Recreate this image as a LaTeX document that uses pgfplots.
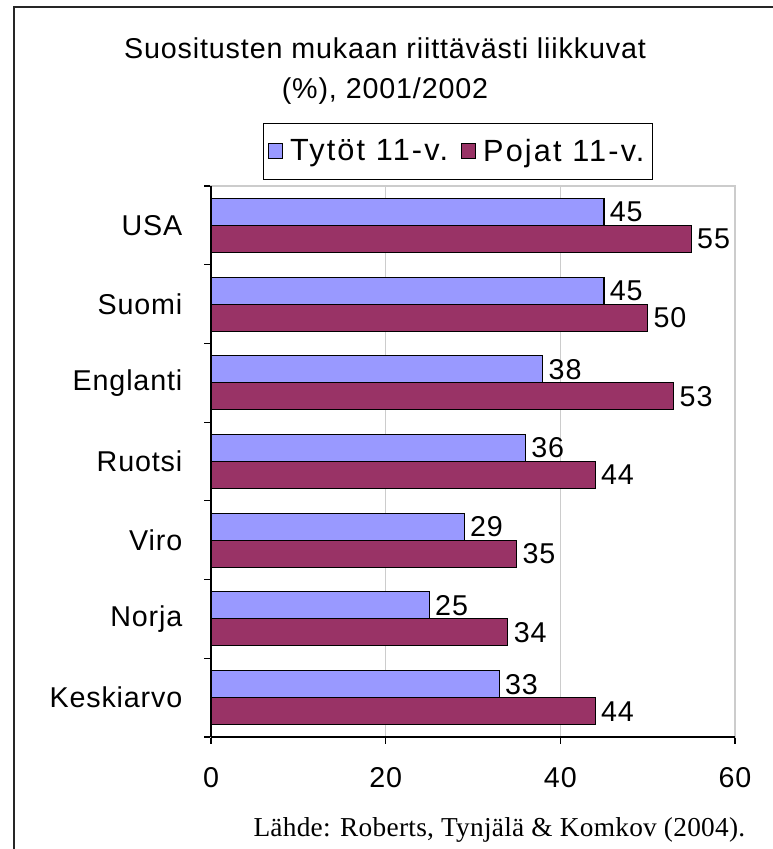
\documentclass[border=0pt]{standalone}
\usepackage{pgfplots}
\pgfplotsset{compat=1.18}
\usepackage{fontspec}
\setmainfont{Liberation Sans}[LetterSpace=3]
\newfontfamily\seriffont{Liberation Serif}[LetterSpace=1]
\definecolor{tyto}{HTML}{9999FF}
\definecolor{poika}{HTML}{993366}
\newcommand\bigf{\fontsize{21.5}{30}\selectfont}
\newcommand\legf{\fontsize{23}{30}\selectfont\addfontfeature{LetterSpace=7}}
\begin{document}
\begin{tikzpicture}[x=0.75pt,y=0.75pt]
\useasboundingbox (0,0) rectangle (773,849);
\draw[line width=1.5pt, black!85] (14,-5) -- (14,842) -- (780,842);
\node[font=\bigf, align=center] at (385,778) {Suositusten mukaan riittävästi liikkuvat\\(\%), 2001/2002};
\coordinate (ax) at (211,112);
\node[font=\seriffont\fontsize{20.5}{24}\selectfont, anchor=east] at (750,19) {Lähde: Roberts, Tynjälä \& Komkov (2004).};
\begin{axis}[at={(ax)}, anchor=south west, scale only axis,
  width=393pt, height=413.25pt,
  xbar, clip=false,
  xmin=0, xmax=60, ymin=-0.5, ymax=6.5,
  /pgf/number format/assume math mode=true,
  xtick={0,20,40,60},
  xmajorgrids, grid style={draw=gray!40, line width=0.8pt},
  axis line style={draw=gray!40, line width=0.8pt},
  tick style={black, line width=0.8pt},
  tick align=outside, tick pos=left,
  major tick length=5.25pt,
  xticklabel style={font=\bigf, yshift=-14pt},
  ytick={-0.5,0.5,1.5,2.5,3.5,4.5,5.5,6.5},
  yticklabels={},
  extra y ticks={0,1,2,3,4,5,6},
  extra y tick labels={Keskiarvo,Norja,Viro,Ruotsi,Englanti,Suomi,USA},
  extra y tick style={major tick length=0pt, yticklabel style={font=\bigf, xshift=-18pt}},
  bar width=0.343,
  nodes near coords,
  nodes near coords style={font=\bigf, anchor=west, inner sep=4pt},
  legend style={at={(rel axis cs:0.471,1)}, anchor=south, yshift=4.5pt,
    draw=black, line width=0.8pt, font=\legf, legend columns=2,
    inner xsep=4pt, inner ysep=10pt,
    /tikz/every odd column/.append style={column sep=3pt},
    /tikz/every even column/.append style={column sep=8pt}},
  legend image code/.code={\draw[#1,draw=black,line width=0.8pt] (0pt,-5.25pt) rectangle (10.5pt,5.75pt);},
]
\addplot[fill=tyto, draw=black, line width=0.8pt, bar shift=0.1715]
  coordinates {(45,6) (45,5) (38,4) (36,3) (29,2) (25,1) (33,0)};
\addplot[fill=poika, draw=black, line width=0.8pt, bar shift=-0.1715]
  coordinates {(55,6) (50,5) (53,4) (44,3) (35,2) (34,1) (44,0)};
\legend{Tytöt 11-v., Pojat 11-v.}
\draw[black, line width=0.9pt] (rel axis cs:0,0) -- (rel axis cs:0,1);
\draw[black, line width=0.9pt] (rel axis cs:0,0) -- (rel axis cs:1,0);
\end{axis}
\end{tikzpicture}
\end{document}
